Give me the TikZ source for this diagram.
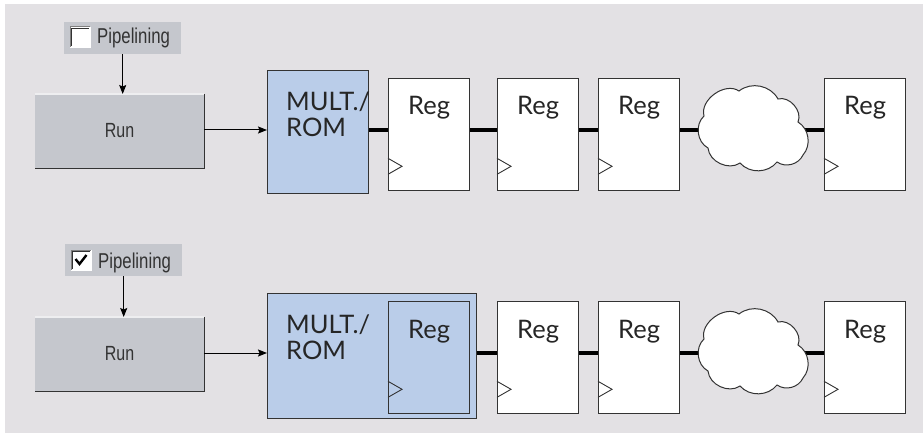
\documentclass[tikz,border=0pt]{standalone}
\usepackage{fontspec}
\setmainfont{Lato}
\newfontfamily\uifont[FakeStretch=0.78]{Liberation Sans}
\usetikzlibrary{arrows.meta}

\definecolor{panel}{HTML}{E3E1E4}
\definecolor{btn}{HTML}{C5C7CD}
\definecolor{multblue}{HTML}{BACDE9}
\definecolor{edge}{HTML}{333333}
\definecolor{uitext}{HTML}{333333}

% clock input triangle on the left edge of a register
\newcommand\clocktri[1]{%
  \draw[clk] ([yshift=33pt]#1.south west) -- ([xshift=14pt,yshift=25pt]#1.south west)
    -- ([yshift=17pt]#1.south west);}

% sunken check box frame
\newcommand\chkframe[1]{%
  \draw[gray, line width=1pt] (#1.south west) -- (#1.north west) -- (#1.north east);
  \draw[black!80, line width=1.5pt] ([shift={(1.5,19)}]#1.north west) -- ([shift={(1.5,1.5)}]#1.north west)
    -- ([shift={(19,1.5)}]#1.north west);
  \draw[white, line width=1pt] (#1.south west) -- (#1.south east) -- (#1.north east);}

% cloud of combinational logic around a centre coordinate
\newcommand\logiccloud[1]{%
  \draw[cloudline] ([shift={(-50,-12)}]#1)
    to[bend left=70] ([shift={(-15,-37)}]#1)
    to[bend left=50] ([shift={(24,-29)}]#1)
    to[bend left=65] ([shift={(44,-6)}]#1)
    to[bend left=50] ([shift={(49,27)}]#1)
    to[bend left=50] ([shift={(23,34)}]#1)
    to[bend left=50] ([shift={(-14,35)}]#1)
    to[bend left=60] ([shift={(-46,20)}]#1)
    to[bend left=55] cycle;}

\begin{document}
\begin{tikzpicture}[x=1pt,y=-1pt,
  box/.style={draw=edge, line width=1.3pt, anchor=north west, inner sep=0pt},
  regbox/.style={box, fill=white, minimum width=81pt, minimum height=112pt},
  multbox/.style={box, fill=multblue},
  regtext/.style={font=\fontsize{25.5}{26}\selectfont, text=black!85, anchor=base, inner sep=0pt},
  multtext/.style={font=\fontsize{25.5}{26}\selectfont, text=black!85, anchor=base west,
    align=left, inner sep=0pt},
  clk/.style={draw=edge, line width=0.9pt, line join=miter},
  wire/.style={line width=4.2pt, black},
  cloudline/.style={draw=edge, fill=white, line width=1pt},
  runbtn/.style={fill=btn, anchor=north west, minimum width=169pt, minimum height=74pt,
    inner sep=0pt},
  runtext/.style={font=\uifont\fontsize{20.5}{22}\selectfont, text=uitext, anchor=base, inner sep=0pt},
  optbox/.style={fill=btn, anchor=north west, minimum width=117pt, minimum height=32pt,
    inner sep=0pt},
  opttext/.style={font=\uifont\fontsize{21.5}{24}\selectfont, text=uitext, anchor=base west,
    inner sep=0pt},
  chk/.style={fill=white, anchor=north west, minimum size=20pt, inner sep=0pt},
  flow/.style={line width=1pt, black, -{Stealth[length=9pt,width=7pt,inset=1.5pt]}},
]
\useasboundingbox (0,0) rectangle (923,433);
\fill[panel] (5,4) rectangle (923,433);

% ---------------- upper row: pipelining off ----------------
\node[optbox] (opt1) at (64,22) {};
\node[chk] (cb1) at (70,27) {};
\chkframe{cb1}
\node[opttext] (opt1t) at (97,44) {Pipelining};

\node[runbtn] (run1) at (35,94) {};
\draw[white!70!btn, line width=1.5pt] (run1.north west) -- (run1.north east);
\draw[edge, line width=1.6pt] (run1.north east) -- (run1.south east) -- (run1.south west);
\node[runtext] (run1t) at (119.5,137) {Run};

\node[multbox, minimum width=101pt, minimum height=123pt] (m1) at (267,70) {};
\node[multtext] (m1t) at (286,136) {MULT./\\ROM};

\node[regbox] (a1) at (388,78) {};
\node[regbox] (a2) at (497,78) {};
\node[regbox] (a3) at (598,78) {};
\node[regbox] (a4) at (824,78) {};
\coordinate (cl1) at (754,128);
\coordinate (w1) at (0,130);

\draw[flow] (opt1.south) -- (opt1.south |- run1.north);
\draw[flow] (run1.east |- w1) -- (m1.west |- w1);
\draw[wire] (m1.east |- w1) -- (a1.west |- w1);
\draw[wire] (a1.east |- w1) -- (a2.west |- w1);
\draw[wire] (a2.east |- w1) -- (a3.west |- w1);
\draw[wire] (a3.east |- w1) -- (a4.west |- w1);
\logiccloud{cl1}

\foreach \r in {a1,a2,a3,a4}{
  \node[regtext] (\r t) at ([yshift=-37pt]\r.north) {Reg};
  \clocktri{\r}
}

% ---------------- lower row: pipelining on ----------------
\node[optbox] (opt2) at (65,244) {};
\node[chk] (cb2) at (71,250) {};
\chkframe{cb2}
\draw[black, line width=2.4pt, line join=miter]
  ([shift={(4.5,9)}]cb2.north west) -- ([shift={(8.5,14)}]cb2.north west) -- ([shift={(15.5,5)}]cb2.north west);
\node[opttext] (opt2t) at (98,268) {Pipelining};

\node[runbtn] (run2) at (35,317) {};
\draw[white!70!btn, line width=1.5pt] (run2.north west) -- (run2.north east);
\draw[edge, line width=1.6pt] (run2.north east) -- (run2.south east) -- (run2.south west);
\node[runtext] (run2t) at (119.5,360) {Run};

\node[multbox, minimum width=209pt, minimum height=125pt] (m2) at (267,293) {};
\node[multtext] (m2t) at (286,359) {MULT./\\ROM};
\node[box, fill=multblue, minimum width=81pt, minimum height=112pt] (b1) at (388,301) {};

\node[regbox] (b2) at (497,301) {};
\node[regbox] (b3) at (598,301) {};
\node[regbox] (b4) at (824,301) {};
\coordinate (cl2) at (754,351);
\coordinate (w2) at (0,353);

\draw[flow] (opt2.south) -- (opt2.south |- run2.north);
\draw[flow] (run2.east |- w2) -- (m2.west |- w2);
\draw[wire] (m2.east |- w2) -- (b2.west |- w2);
\draw[wire] (b2.east |- w2) -- (b3.west |- w2);
\draw[wire] (b3.east |- w2) -- (b4.west |- w2);
\logiccloud{cl2}

\foreach \r in {b1,b2,b3,b4}{
  \node[regtext] (\r t) at ([yshift=-37pt]\r.north) {Reg};
  \clocktri{\r}
}
\end{tikzpicture}
\end{document}
